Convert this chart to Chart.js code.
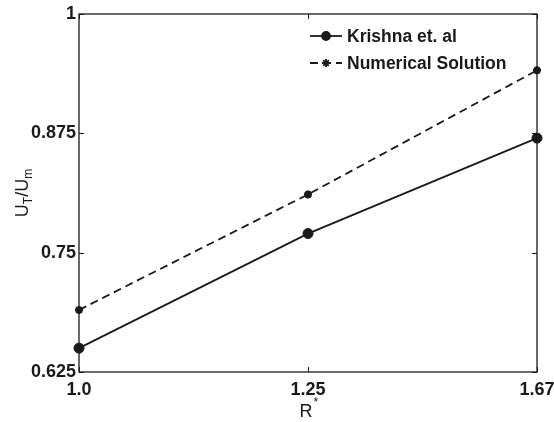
<!DOCTYPE html>
<html>
<head>
<meta charset="utf-8">
<script src="https://cdn.jsdelivr.net/npm/chart.js@4/dist/chart.umd.min.js"></script>
<style>
  html, body { margin: 0; padding: 0; background: #fff; }
</style>
</head>
<body>
<canvas id="myChart" width="554" height="422"></canvas>
<script>
const rStar = ["1.0", "1.25", "1.67"];
const krishna = [0.65, 0.77, 0.87];
const numerical = [0.69, 0.811, 0.941];
const yTicks = [0.625, 0.75, 0.875, 1];
const seriesNames = ["Krishna et. al", "Numerical Solution"];

const ink = "#1a1a1a";
const fontFamily = "'Liberation Sans', Arial, Helvetica, sans-serif";

// box round the plot with short ticks pointing inwards
const frameTicks = {
  id: "frameTicks",
  afterDraw(chart) {
    const c = chart.ctx;
    const a = chart.chartArea;
    const xs = chart.scales.x;
    const ys = chart.scales.y;
    const len = 5;
    c.save();
    c.strokeStyle = ink;
    c.lineWidth = 1.3;
    c.strokeRect(a.left, a.top, a.right - a.left, a.bottom - a.top);
    c.lineWidth = 1;
    c.beginPath();
    yTicks.forEach(v => {
      const py = Math.round(ys.getPixelForValue(v)) + 0.5;
      c.moveTo(a.left, py); c.lineTo(a.left + len, py);
      c.moveTo(a.right, py); c.lineTo(a.right - len, py);
    });
    rStar.forEach((lab, i) => {
      const px = Math.round(xs.getPixelForValue(i)) + 0.5;
      c.moveTo(px, a.bottom); c.lineTo(px, a.bottom - len);
      c.moveTo(px, a.top); c.lineTo(px, a.top + len);
    });
    c.stroke();
    c.restore();
  }
};

// axis titles with sub/superscripts
const axisTitles = {
  id: "axisTitles",
  afterDraw(chart) {
    const c = chart.ctx;
    const a = chart.chartArea;
    c.save();
    c.fillStyle = ink;
    c.textBaseline = "alphabetic";

    // x: R*
    const big = "18px " + fontFamily;
    const small = "12px " + fontFamily;
    c.font = big;
    const wR = c.measureText("R").width;
    const cx = (a.left + a.right) / 2;
    c.fillText("R", cx - wR / 2 - 2, 417);
    c.font = small;
    c.fillText("*", cx - 1 + wR / 2, 406);

    // y: U_T/U_m, rotated
    const parts = [
      { t: "U", f: big, dy: 0 },
      { t: "T", f: small, dy: 4 },
      { t: "/U", f: big, dy: 0 },
      { t: "m", f: small, dy: 4 }
    ];
    let total = 0;
    parts.forEach(p => { c.font = p.f; p.w = c.measureText(p.t).width; total += p.w; });
    c.translate(28, (a.top + a.bottom) / 2 + total / 2);
    c.rotate(-Math.PI / 2);
    let x = 0;
    parts.forEach(p => {
      c.font = p.f;
      c.fillText(p.t, x, p.dy);
      x += p.w;
    });
    c.restore();
  }
};

// legend in the upper right of the plot
const innerLegend = {
  id: "innerLegend",
  afterDatasetsDraw(chart) {
    const c = chart.ctx;
    const a = chart.chartArea;
    const x0 = a.right - 227;
    const x1 = x0 + 32;
    const rows = [a.top + 22, a.top + 49];
    c.save();
    chart.data.datasets.forEach((ds, i) => {
      const y = rows[i];
      c.strokeStyle = ink;
      c.lineWidth = 1.8;
      c.setLineDash(ds.borderDash || []);
      c.beginPath();
      c.moveTo(x0, y); c.lineTo(x1, y);
      c.stroke();
      c.setLineDash([]);
      Chart.helpers.drawPoint(c, {
        pointStyle: ds.pointStyle,
        radius: Math.min(ds.pointRadius, 4),
        borderWidth: ds.pointBorderWidth,
        rotation: 0
      }, (x0 + x1) / 2, y);
      c.fillStyle = ink;
      c.font = "bold 17.5px " + fontFamily;
      c.textBaseline = "middle";
      c.fillText(ds.label, x1 + 5, y + 1);
    });
    c.restore();
  }
};

const ctx = document.getElementById("myChart");

const myChart = new Chart(ctx, {
  type: "line",
  data: {
    labels: rStar,
    datasets: [
      {
        label: seriesNames[0],
        data: krishna,
        borderColor: ink,
        backgroundColor: ink,
        borderWidth: 1.8,
        pointStyle: "circle",
        pointRadius: 5,
        pointBorderWidth: 1,
        pointBackgroundColor: ink,
        pointBorderColor: ink,
        clip: false
      },
      {
        label: seriesNames[1],
        data: numerical,
        borderColor: ink,
        backgroundColor: ink,
        borderWidth: 1.8,
        borderDash: [8, 5],
        pointStyle: "star",
        pointRadius: 4,
        pointBorderWidth: 2.5,
        pointBackgroundColor: ink,
        pointBorderColor: ink,
        clip: false
      }
    ]
  },
  options: {
    responsive: false,
    animation: false,
    events: [],
    layout: { padding: { left: 0, top: 14, right: 17, bottom: 0 } },
    plugins: {
      legend: { display: false },
      tooltip: { enabled: false }
    },
    scales: {
      x: {
        type: "category",
        offset: false,
        grid: { display: false, drawTicks: false, tickLength: 0 },
        border: { display: false },
        ticks: {
          color: ink,
          padding: 7,
          maxRotation: 0,
          font: { family: fontFamily, size: 18, weight: "bold" }
        },
        afterFit(scale) {
          scale.height = 50;
          scale.paddingLeft = 0;
          scale.paddingRight = 0;
        }
      },
      y: {
        min: 0.625,
        max: 1,
        grid: { display: false, drawTicks: false, tickLength: 0 },
        border: { display: false },
        afterBuildTicks(scale) {
          scale.ticks = yTicks.map(v => ({ value: v }));
        },
        ticks: {
          color: ink,
          padding: 3,
          font: { family: fontFamily, size: 18, weight: "bold" },
          callback: v => String(Number(v.toFixed(3)))
        },
        afterFit(scale) {
          scale.width = 79;
          scale.paddingTop = 0;
          scale.paddingBottom = 0;
        }
      }
    }
  },
  plugins: [frameTicks, axisTitles, innerLegend]
});
</script>
</body>
</html>
